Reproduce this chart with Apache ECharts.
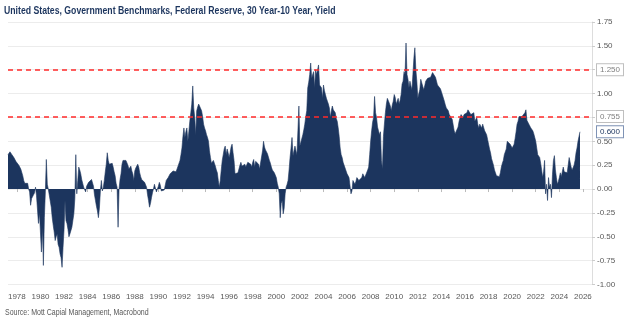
<!DOCTYPE html>
<html>
<head>
<meta charset="utf-8">
<script src="https://cdn.jsdelivr.net/npm/echarts@6/dist/echarts.min.js"></script>
<style>
html,body{margin:0;padding:0;background:#fff;}
#chart{width:624px;height:326px;}
</style>
</head>
<body>
<div id="chart"></div>
<script>
// Monthly data, first value = April 1977
var startYear = 1977, startMonth = 4;
var v1970s = [
  .36,.38,.39,.37,.36,.34,.33,.31,.29,
  .28,.27,.25,.23,.21,.19,.14,.09,.06,.05,.07,.06,
  .0,-.03,-.17,-.1,-.09,-.12,-.04,.02,-.07,-.05,-.36,-.25
];
var v1980s = [
  -.45,-.66,-.4,-.8,-.3,-.03,.31,.05,.0,.02,-.02,-.19,
  -.3,-.38,-.45,-.54,-.5,-.47,-.58,-.61,-.68,-.72,-.82,-.61,
  -.43,-.12,-.33,-.36,-.42,-.5,-.47,-.45,-.4,-.33,-.26,-.1,
  .36,-.05,.09,.23,.2,.16,.1,.09,.02,.0,-.03,.03,
  .05,.07,.09,.08,.1,.1,.03,-.06,-.12,-.18,-.23,-.3,
  -.2,-.02,.09,-.02,.02,.09,.18,.26,.38,.3,.26,.28,
  .28,.27,.23,.18,.14,.06,.02,-.4,.0,.1,.16,.26,
  .3,.29,.28,.3,.31,.25,.21,.22,.24,.19,.16,.09,
  .19,.22,.24,.26,.23,.17,.13,.1,.09,.09,.07,.06,
  .02,-.06,-.12,-.19,-.15,-.09,-.04,.0,.05,.07,-.03,.0
];
var v1990s = [
  .03,.07,.04,-.02,-.03,-.02,-.01,.0,.09,.1,.12,.14,
  .16,.17,.17,.19,.18,.17,.18,.19,.24,.26,.3,.36,
  .43,.55,.64,.54,.6,.64,.5,.6,.71,.8,.89,1.08,
  .85,.75,.57,.82,.86,.89,.88,.87,.82,.76,.68,.64,
  .61,.57,.54,.5,.4,.33,.27,.26,.3,.27,.24,.2,
  .17,.09,.02,.09,.2,.3,.36,.42,.45,.36,.42,.38,
  .33,.38,.44,.47,.38,.3,.16,.15,.14,.17,.19,.25,
  .28,.24,.23,.24,.26,.23,.23,.28,.29,.3,.26,.23,
  .28,.31,.23,.29,.31,.27,.26,.21,.22,.23,.4,.5,
  .44,.41,.4,.37,.35,.3,.27,.23,.2,.19,.17,.16
];
var v2000s = [
  .12,.06,.02,-.05,-.3,-.15,-.12,-.26,-.2,-.05,.02,.05,
  .09,.2,.33,.43,.54,.35,.4,.45,.4,.36,.61,.87,
  .45,.43,.47,.57,.62,.68,.76,.82,1.06,1.12,1.2,1.32,
  1.16,1.2,1.23,1.06,1.25,1.2,1.25,1.3,1.09,1.1,1.06,.95,
  1.09,1.03,.99,.95,.92,.89,.85,.75,.82,.87,.83,.81,
  .8,.74,.71,.64,.55,.43,.36,.33,.28,.26,.22,.19,
  .16,.14,.12,.1,-.05,-.02,.09,.08,.05,.08,.12,.1,
  .09,.09,.1,.12,.16,.14,.12,.12,.14,.2,.23,.36,
  .5,.61,.7,.75,.97,.8,.75,.65,.61,.57,.6,.3,
  .21,.55,.68,.8,.89,.95,.97,.9,.87,.82,.88,.92
];
var v2010s = [
  .99,.96,.89,.92,.95,.89,.93,.99,1.1,1.13,1.23,1.2,
  1.53,1.2,1.15,1.06,1.13,1.08,1.04,1.2,1.37,1.48,1.25,1.13,
  .95,1.0,1.04,1.15,1.14,1.13,1.04,1.08,1.13,1.14,1.16,1.15,
  1.15,1.17,1.18,1.22,1.21,1.2,1.17,1.15,1.09,1.1,1.11,1.05,
  1.02,1.01,1.0,.92,.88,.85,.85,.82,.78,.77,.76,.73,
  .71,.61,.58,.56,.6,.65,.71,.75,.78,.76,.75,.78,
  .8,.78,.8,.83,.85,.82,.78,.77,.76,.8,.71,.7,
  .75,.68,.64,.68,.66,.64,.68,.66,.61,.6,.57,.52,
  .47,.42,.38,.32,.3,.25,.2,.17,.14,.12,.12,.13,
  .17,.23,.27,.3,.36,.38,.42,.5,.52,.48,.47,.49
];
var v2020s = [
  .43,.45,.47,.53,.6,.68,.71,.76,.75,.75,.76,.78,
  .76,.8,.83,.72,.71,.68,.66,.64,.62,.61,.58,.57,
  .5,.43,.36,.34,.33,.27,.2,.12,.18,.3,-.05,.05,
  -.12,.12,.02,.05,-.09,.15,.3,.35,.2,.12,.05,.08,
  .12,.17,.13,.12,.23,.18,.16,.19,.17,.16,.33,.28,
  .23,.2,.19,.25,.3,.38,.43,.5,.55,.6
];
var yearTicks = [1978,1980,1982,1984,1986,1988,1990,1992,1994,1996,1998,2000,2002,2004,2006,2008,2010,2012,2014,2016,2018,2020,2022,2024,2026];
var refLines = [1.25, 0.755];
var refLabels = ['1.250', '0.755'];
var lastLabel = '0.600';
var titleText = 'United States, Government Benchmarks, Federal Reserve, 30 Year-10 Year, Yield';
var sourceText = 'Source: Mott Capial Management, Macrobond';

var allValues = [].concat(v1970s, v1980s, v1990s, v2000s, v2010s, v2020s);
var seriesData = allValues.map(function (v, i) {
  return [startYear + (startMonth - 1 + i) / 12, v];
});
var lastValue = allValues[allValues.length - 1];

var navy = '#1c355e';
var font = "'Liberation Sans',Arial,sans-serif";
var chart = echarts.init(document.getElementById('chart'), null, {renderer: 'canvas'});

function boxLabel(text, color, border) {
  return {
    show: true, position: 'end', formatter: text, distance: 5,
    color: color, fontSize: 8, fontFamily: font,
    backgroundColor: '#fff', borderColor: border, borderWidth: 1,
    padding: [2, 3, 1, 3]
  };
}

chart.setOption({
  animation: false,
  backgroundColor: '#fff',
  graphic: [
    {type: 'text', left: 4, top: 5, scaleX: 0.79,
     style: {text: titleText, font: 'bold 11px "Liberation Sans", Arial, sans-serif', fill: navy}},
    {type: 'text', left: 5, top: 308, scaleX: 0.78,
     style: {text: sourceText, font: '9px "Liberation Sans", Arial, sans-serif', fill: '#595959'}}
  ],
  grid: {left: 8, right: 32, top: 22, bottom: 41.5, containLabel: false},
  xAxis: {
    type: 'value', min: 1977.25, max: 2026.77,
    axisLine: {show: false},
    axisTick: {show: true, customValues: yearTicks, length: 3, lineStyle: {color: '#bbb'}},
    axisLabel: {customValues: yearTicks, formatter: function (v) { return String(v); },
      fontSize: 8, color: '#595959', fontFamily: font, margin: 4},
    splitLine: {show: false},
    offset: 4
  },
  yAxis: {
    type: 'value', position: 'right', min: -1, max: 1.75, interval: 0.25,
    axisLine: {show: true, lineStyle: {color: '#dddddd'}},
    axisTick: {show: true, length: 3, lineStyle: {color: '#cccccc'}},
    axisLabel: {formatter: function (v) { return v.toFixed(2); }, fontSize: 8,
      color: '#595959', fontFamily: font, margin: 5},
    splitLine: {show: true, lineStyle: {color: '#ececec', width: 1}}
  },
  series: [{
    type: 'line', data: seriesData, showSymbol: false, sampling: null,
    lineStyle: {width: 0.6, color: navy},
    areaStyle: {color: navy, opacity: 1, origin: 0},
    markLine: {
      symbol: 'none', silent: true, animation: false,
      data: [
        {yAxis: refLines[0], lineStyle: {color: '#ff2a2a', type: [5, 4], width: 1.5},
         label: boxLabel(refLabels[0], '#7f7f7f', '#bfbfbf')},
        {yAxis: refLines[1], lineStyle: {color: '#ff2a2a', type: [5, 4], width: 1.5},
         label: boxLabel(refLabels[1], '#7f7f7f', '#bfbfbf')},
        {yAxis: lastValue, lineStyle: {color: 'rgba(0,0,0,0)', width: 0},
         label: boxLabel(lastLabel, navy, '#7f93b5')}
      ]
    }
  }]
});
</script>
</body>
</html>
